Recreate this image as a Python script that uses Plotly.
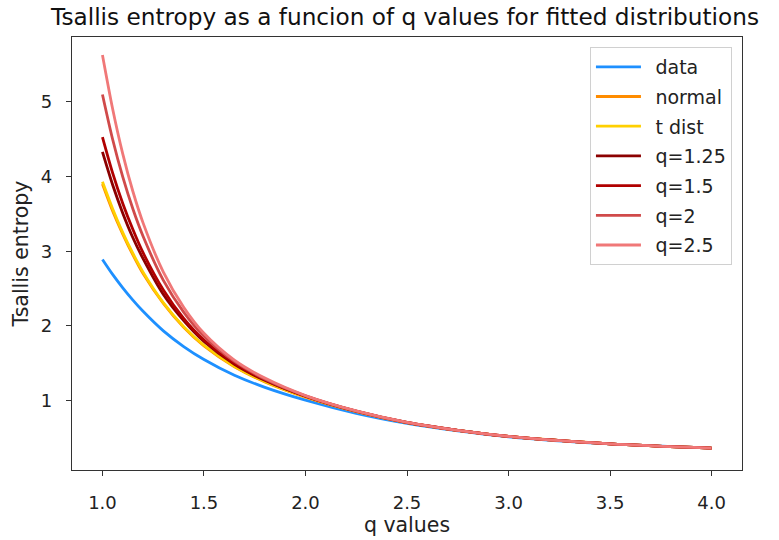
import plotly.graph_objects as go

q_values = [1.0, 1.05, 1.1, 1.15, 1.2, 1.3, 1.4, 1.5, 1.65, 1.8, 2.0, 2.25, 2.5, 2.75, 3.0, 3.5, 4.0]

data_vals = [2.89, 2.69, 2.51, 2.345, 2.195, 1.933, 1.723, 1.549, 1.338, 1.176, 1.004, 0.828, 0.693, 0.593, 0.514, 0.418, 0.361]
normal_vals = [3.90, 3.54, 3.23, 2.95, 2.70, 2.30, 1.98, 1.73, 1.452, 1.25, 1.046, 0.852, 0.704, 0.600, 0.519, 0.42, 0.363]
tdist_vals = [3.93, 3.57, 3.25, 2.97, 2.72, 2.31, 1.99, 1.74, 1.459, 1.256, 1.05, 0.854, 0.705, 0.601, 0.52, 0.42, 0.363]
q125_vals = [4.33, 3.89, 3.51, 3.18, 2.90, 2.42, 2.07, 1.79, 1.486, 1.271, 1.057, 0.856, 0.705, 0.601, 0.52, 0.42, 0.363]
q15_vals = [4.53, 4.05, 3.64, 3.29, 2.98, 2.48, 2.10, 1.81, 1.498, 1.277, 1.059, 0.857, 0.706, 0.601, 0.52, 0.42, 0.363]
q2_vals = [5.10, 4.50, 3.995, 3.565, 3.20, 2.61, 2.185, 1.86, 1.523, 1.289, 1.064, 0.859, 0.706, 0.601, 0.52, 0.42, 0.363]
q25_vals = [5.63, 4.91, 4.305, 3.80, 3.38, 2.72, 2.25, 1.90, 1.54, 1.30, 1.066, 0.86, 0.707, 0.60, 0.52, 0.42, 0.363]

series_names = ["data", "normal", "t dist", "q=1.25", "q=1.5", "q=2", "q=2.5"]
series_vals = [data_vals, normal_vals, tdist_vals, q125_vals, q15_vals, q2_vals, q25_vals]
series_colors = ["#1E90FF", "#FF8C00", "#FFD000", "#8B0000", "#B00000", "#D04A4A", "#F07878"]

x_ticks = [1.0, 1.5, 2.0, 2.5, 3.0, 3.5, 4.0]
y_ticks = [1, 2, 3, 4, 5]

FONT = "DejaVu Sans"

fig = go.Figure()
for name, vals, col in zip(series_names, series_vals, series_colors):
    fig.add_trace(go.Scatter(
        x=q_values, y=vals, name="\u2002" + name, mode="lines", legendgroup=name,
        line=dict(color=col, width=2.8, shape="spline", smoothing=0.8),
    ))

axis_common = dict(
    showline=True, linecolor="#333333", linewidth=1.3, mirror=True,
    ticks="outside", ticklen=5, tickwidth=1.2, tickcolor="#333333",
    showgrid=False, zeroline=False,
    tickfont=dict(family=FONT, size=18, color="#222222"),
)

fig.update_layout(
    width=779, height=540,
    margin=dict(l=72, r=37, t=37, b=64),
    paper_bgcolor="white", plot_bgcolor="white",
    font=dict(family=FONT, color="#222222"),
    title=dict(text="Tsallis entropy as a funcion of q values for fitted distributions",
               x=0.52, xref="container", xanchor="center", y=0.968, yanchor="middle",
               font=dict(family=FONT, size=23.2, color="#111111")),
    xaxis=dict(range=[0.85, 4.15], tickvals=x_ticks, ticktext=[f"{v:.1f}" for v in x_ticks],
               ticklabelstandoff=11,
               title=dict(text="q values", font=dict(family=FONT, size=20.5), standoff=1),
               **axis_common),
    yaxis=dict(range=[0.069, 5.87], tickvals=y_ticks, ticktext=[str(v) for v in y_ticks],
               ticklabelstandoff=10,
               title=dict(text="Tsallis entropy", font=dict(family=FONT, size=20.5), standoff=6),
               **axis_common),
    legend=dict(x=0.985, y=0.977, xanchor="right", yanchor="top",
                bgcolor="white", bordercolor="#d0d0d0", borderwidth=1,
                font=dict(family=FONT, size=19, color="#222222"),
                tracegroupgap=2.0, itemwidth=45),
    showlegend=True,
)

fig.write_html("out.html")
